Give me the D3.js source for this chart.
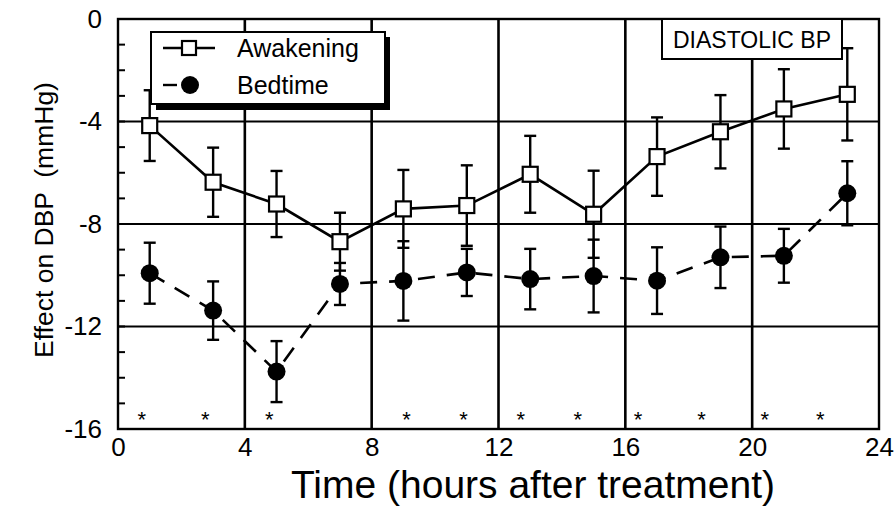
<!DOCTYPE html>
<html>
<head>
<meta charset="utf-8">
<script src="https://cdn.jsdelivr.net/npm/d3@7"></script>
<style>
  html, body { margin: 0; padding: 0; background: #fff; }
  svg { display: block; font-family: "Liberation Sans", Arial, sans-serif; }
</style>
</head>
<body>
<svg id="chart" width="895" height="510"></svg>
<script>
// Hours after treatment at which each mean was taken
const hours = [1, 3, 5, 7, 9, 11, 13, 15, 17, 19, 21, 23];

// Mean change in diastolic BP (mmHg) and its error half-width
const awakeningMean = [-4.16, -6.37, -7.22, -8.69, -7.41, -7.28, -6.06, -7.62, -5.37, -4.40, -3.51, -2.94];
const awakeningErr  = [1.38, 1.35, 1.29, 1.13, 1.52, 1.57, 1.50, 1.70, 1.53, 1.43, 1.55, 1.80];
const bedtimeMean   = [-9.92, -11.38, -13.76, -10.34, -10.22, -9.89, -10.15, -10.03, -10.21, -9.30, -9.24, -6.80];
const bedtimeErr    = [1.19, 1.14, 1.19, 0.82, 1.55, 0.92, 1.18, 1.42, 1.30, 1.20, 1.05, 1.25];

// Hours flagged as significant between the two regimens
const starHours = [0.75, 2.75, 4.77, 9.1, 10.9, 12.7, 14.5, 16.4, 18.4, 20.4, 22.15];

const xTicks = [0, 4, 8, 12, 16, 20, 24];
const yTicks = [0, -4, -8, -12, -16];
const yMinor = d3.range(-16, 1, 1);

const svg = d3.select("#chart");
const plotLeft = 118, plotRight = 879, plotTop = 19, plotBottom = 429;

const x = d3.scaleLinear().domain([0, 24]).range([plotLeft, plotRight]);
const y = d3.scaleLinear().domain([-16, 0]).range([plotBottom, plotTop]);

// Grid: thick verticals every 4 h, thinner horizontals every 4 mmHg
svg.append("g").selectAll("line")
  .data(xTicks.slice(1, -1)).join("line")
  .attr("x1", d => x(d)).attr("x2", d => x(d))
  .attr("y1", plotTop).attr("y2", plotBottom)
  .attr("stroke", "#000").attr("stroke-width", 2.6);

svg.append("g").selectAll("line")
  .data(yTicks.slice(1, -1)).join("line")
  .attr("x1", plotLeft).attr("x2", plotRight)
  .attr("y1", d => y(d)).attr("y2", d => y(d))
  .attr("stroke", "#000").attr("stroke-width", 1.8);

// Minor ticks along the left axis, pointing inward
svg.append("g").selectAll("line")
  .data(yMinor).join("line")
  .attr("x1", plotLeft).attr("x2", plotLeft + 7)
  .attr("y1", d => y(d)).attr("y2", d => y(d))
  .attr("stroke", "#000").attr("stroke-width", 2);

// Plot frame
svg.append("rect")
  .attr("x", plotLeft).attr("y", plotTop)
  .attr("width", plotRight - plotLeft).attr("height", plotBottom - plotTop)
  .attr("fill", "none").attr("stroke", "#000").attr("stroke-width", 2.4);

// Axis labels via d3 axes with hidden tick lines (plain hyphen for negatives)
const fmt = d => String(d);
const xAxis = d3.axisBottom(x).tickValues(xTicks).tickSize(0).tickPadding(9).tickFormat(fmt);
const gx = svg.append("g").attr("transform", `translate(0,${plotBottom})`).call(xAxis);
gx.select(".domain").remove();
gx.selectAll("text").attr("font-size", 26).attr("fill", "#000")
  .attr("font-family", "Liberation Sans, Arial, sans-serif");

const yAxis = d3.axisLeft(y).tickValues(yTicks).tickSize(0).tickPadding(16).tickFormat(fmt);
const gy = svg.append("g").attr("transform", `translate(${plotLeft},0)`).call(yAxis);
gy.select(".domain").remove();
gy.selectAll("text").attr("font-size", 26).attr("fill", "#000")
  .attr("font-family", "Liberation Sans, Arial, sans-serif");

// Axis titles
svg.append("text")
  .attr("x", 533).attr("y", 498)
  .attr("text-anchor", "middle").attr("font-size", 39)
  .text("Time (hours after treatment)");

svg.append("text")
  .attr("transform", `translate(53,${(plotTop + plotBottom) / 2 - 4}) rotate(-90)`)
  .attr("text-anchor", "middle").attr("font-size", 26.5)
  .attr("xml:space", "preserve")
  .text("Effect on DBP  (mmHg)");

// Series
const awake = hours.map((h, i) => ({ h, m: awakeningMean[i], e: awakeningErr[i] }));
const bed   = hours.map((h, i) => ({ h, m: bedtimeMean[i], e: bedtimeErr[i] }));

const line = d3.line().x(d => x(d.h)).y(d => y(d.m));

svg.append("path").datum(bed).attr("d", line)
  .attr("fill", "none").attr("stroke", "#000").attr("stroke-width", 2.6)
  .attr("stroke-dasharray", "17,12");

svg.append("path").datum(awake).attr("d", line)
  .attr("fill", "none").attr("stroke", "#000").attr("stroke-width", 2.6);

function errorBars(data) {
  const g = svg.append("g").attr("stroke", "#000").attr("stroke-width", 2.4);
  g.selectAll(".v").data(data).join("line")
    .attr("x1", d => x(d.h)).attr("x2", d => x(d.h))
    .attr("y1", d => y(d.m + d.e)).attr("y2", d => y(d.m - d.e));
  g.selectAll(".t").data(data).join("line")
    .attr("x1", d => x(d.h) - 6).attr("x2", d => x(d.h) + 6)
    .attr("y1", d => y(d.m + d.e)).attr("y2", d => y(d.m + d.e));
  g.selectAll(".b").data(data).join("line")
    .attr("x1", d => x(d.h) - 6).attr("x2", d => x(d.h) + 6)
    .attr("y1", d => y(d.m - d.e)).attr("y2", d => y(d.m - d.e));
}
errorBars(bed);
errorBars(awake);

svg.append("g").selectAll("circle").data(bed).join("circle")
  .attr("cx", d => x(d.h)).attr("cy", d => y(d.m)).attr("r", 9)
  .attr("fill", "#000");

svg.append("g").selectAll("rect").data(awake).join("rect")
  .attr("x", d => x(d.h) - 7.5).attr("y", d => y(d.m) - 7.5)
  .attr("width", 15).attr("height", 15)
  .attr("fill", "#fff").attr("stroke", "#000").attr("stroke-width", 2.2);

// Significance markers
svg.append("g").selectAll("text").data(starHours).join("text")
  .attr("x", d => x(d)).attr("y", 427)
  .attr("text-anchor", "middle").attr("font-size", 22)
  .text("*");

// Legend with drop shadow
const lg = svg.append("g");
lg.append("rect").attr("x", 156).attr("y", 37).attr("width", 234).attr("height", 73).attr("fill", "#000");
lg.append("rect").attr("x", 151).attr("y", 32).attr("width", 234).attr("height", 72)
  .attr("fill", "#fff").attr("stroke", "#000").attr("stroke-width", 2);
lg.append("line").attr("x1", 163).attr("x2", 215).attr("y1", 48).attr("y2", 48)
  .attr("stroke", "#000").attr("stroke-width", 2.4);
lg.append("rect").attr("x", 182).attr("y", 41).attr("width", 14).attr("height", 14)
  .attr("fill", "#fff").attr("stroke", "#000").attr("stroke-width", 2.2);
lg.append("line").attr("x1", 163).attr("x2", 177).attr("y1", 85).attr("y2", 85)
  .attr("stroke", "#000").attr("stroke-width", 2.4);
lg.append("circle").attr("cx", 190).attr("cy", 85).attr("r", 9).attr("fill", "#000");
lg.append("text").attr("x", 237).attr("y", 57).attr("font-size", 25).text("Awakening");
lg.append("text").attr("x", 237).attr("y", 94).attr("font-size", 25).text("Bedtime");

// Panel label
svg.append("rect").attr("x", 662).attr("y", 19).attr("width", 180).attr("height", 40)
  .attr("fill", "#fff").attr("stroke", "#000").attr("stroke-width", 2);
svg.append("text").attr("x", 752).attr("y", 48).attr("text-anchor", "middle")
  .attr("font-size", 23).text("DIASTOLIC BP");
</script>
</body>
</html>
